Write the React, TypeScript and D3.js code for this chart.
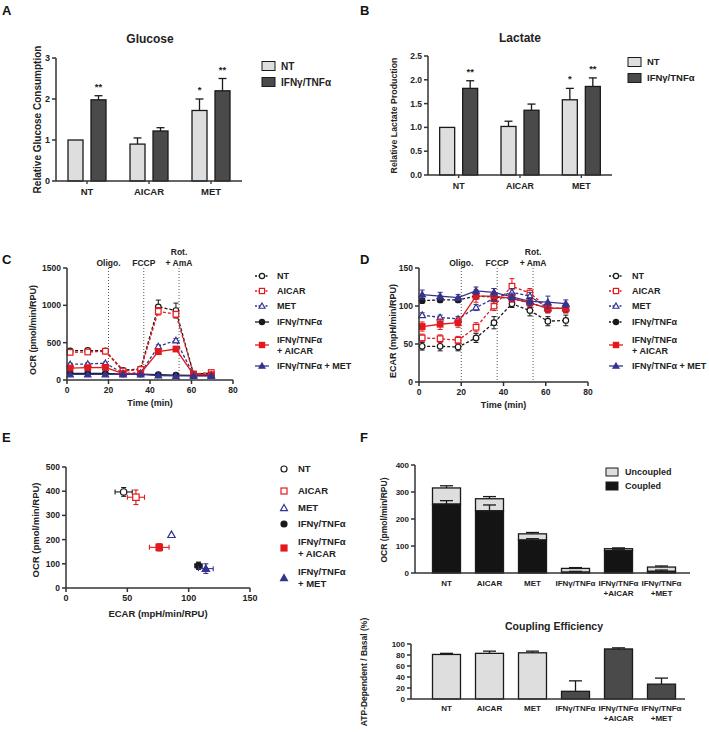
import React from "react";
import * as d3 from "d3";

const FONT = "'Liberation Sans', Arial, Helvetica, sans-serif";

// ---------- Data ----------
const barCats = ["NT", "AICAR", "MET"];
const glucoseNT = [1.0, 0.9, 1.72];
const glucoseNTErr = [0, 0.15, 0.28];
const glucoseIFN = [1.98, 1.22, 2.2];
const glucoseIFNErr = [0.1, 0.08, 0.3];
const glucoseStarsNT = ["", "", "*"];
const glucoseStarsIFN = ["**", "", "**"];

const lactateNT = [1.0, 1.02, 1.58];
const lactateNTErr = [0, 0.11, 0.24];
const lactateIFN = [1.82, 1.36, 1.86];
const lactateIFNErr = [0.16, 0.13, 0.18];
const lactateStarsNT = ["", "", "*"];
const lactateStarsIFN = ["**", "", "**"];

const glucoseTicks = [0, 1, 2, 3];
const lactateTicks = [0, 0.5, 1.0, 1.5, 2.0, 2.5];

const seriesNames = ["NT", "AICAR", "MET", "IFNγ/TNFα", "IFNγ/TNFα + AICAR", "IFNγ/TNFα + MET"];
const timePoints = [1.5, 10, 18.5, 27, 35.5, 44, 52.5, 61, 69.5];
const injectionTimes = [20, 37, 54];
const injectionLabels = [["Oligo."], ["FCCP"], ["Rot.", "+ AmA"]];

const ocrValues = [
  [390, 395, 390, 130, 150, 980, 930, 80, 90],
  [370, 375, 385, 120, 140, 920, 880, 80, 100],
  [210, 215, 225, 90, 95, 450, 530, 70, 70],
  [90, 90, 90, 80, 80, 70, 65, 60, 60],
  [160, 165, 170, 85, 90, 380, 415, 70, 70],
  [75, 75, 75, 75, 75, 60, 55, 55, 55],
];
const ocrErrors = [
  [15, 15, 15, 10, 10, 90, 100, 10, 10],
  [15, 15, 15, 10, 10, 50, 40, 10, 10],
  [15, 15, 15, 10, 10, 20, 25, 10, 10],
  [10, 10, 10, 8, 8, 8, 8, 8, 8],
  [10, 10, 10, 10, 10, 30, 30, 10, 10],
  [5, 5, 5, 5, 5, 5, 5, 5, 5],
];
const ocrTicks = [0, 500, 1000, 1500];

const ecarValues = [
  [47, 47, 46, 58, 78, 103, 94, 80, 81],
  [58, 57, 55, 72, 100, 126, 117, 97, 97],
  [88, 85, 83, 98, 110, 118, 113, 97, 97],
  [107, 108, 108, 113, 112, 110, 104, 97, 97],
  [73, 76, 78, 113, 113, 110, 104, 97, 97],
  [115, 113, 111, 120, 118, 112, 106, 105, 103],
];
const ecarErrors = [
  [5, 6, 5, 6, 8, 5, 7, 6, 7],
  [5, 5, 5, 6, 6, 10, 6, 6, 6],
  [3, 3, 3, 4, 4, 5, 5, 5, 5],
  [3, 3, 3, 4, 4, 4, 6, 5, 5],
  [6, 7, 6, 8, 10, 5, 5, 6, 6],
  [6, 5, 4, 5, 5, 5, 5, 8, 5],
];
const ecarTicks = [0, 50, 100, 150];
const timeTicks = [0, 20, 40, 60, 80];

const energyECAR = [47, 57, 86, 108, 76, 114];
const energyECARErr = [7, 7, 0, 3, 8, 6];
const energyOCR = [397, 375, 220, 92, 168, 80];
const energyOCRErr = [18, 30, 0, 15, 15, 20];
const energyXTicks = [0, 50, 100, 150];
const energyYTicks = [0, 100, 200, 300, 400, 500];

const fCats = [["NT"], ["AICAR"], ["MET"], ["IFNγ/TNFα"], ["IFNγ/TNFα", "+AICAR"], ["IFNγ/TNFα", "+MET"]];
const coupled = [255, 230, 122, 3, 83, 6];
const coupledErr = [13, 22, 5, 3, 3, 5];
const totalOCR = [315, 275, 145, 17, 90, 22];
const totalOCRErr = [8, 8, 5, 3, 3, 4];
const fTopTicks = [0, 100, 200, 300, 400];
const efficiency = [81, 83, 84, 14, 91, 27];
const efficiencyErr = [2, 4, 3, 19, 2, 11];
const efficiencyTicks = [0, 20, 40, 60, 80, 100];

// ---------- Styles ----------
const RED = "#e3191c";
const BLUE = "#34348f";
const BLK = "#1a1a1a";
const LIGHT = "#dedede";
const DARK = "#4a4a4a";
const AX = "#333";

type St = { color: string; shape: string; filled: boolean; dashed: boolean };
const stylesC: St[] = [
  { color: BLK, shape: "circle", filled: false, dashed: true },
  { color: RED, shape: "square", filled: false, dashed: true },
  { color: BLUE, shape: "triangle", filled: false, dashed: true },
  { color: BLK, shape: "circle", filled: true, dashed: false },
  { color: RED, shape: "square", filled: true, dashed: false },
  { color: BLUE, shape: "triangle", filled: true, dashed: false },
];
const stylesD: St[] = stylesC.map((s, i) => (i === 3 ? { ...s, dashed: true } : s));

// ---------- Helpers ----------
function Marker({ x, y, st, size = 3 }: { x: number; y: number; st: St; size?: number }) {
  const fill = st.filled ? st.color : "white";
  if (st.shape === "circle")
    return <circle cx={x} cy={y} r={size} fill={fill} stroke={st.color} strokeWidth={1.2} />;
  if (st.shape === "square")
    return <rect x={x - size} y={y - size} width={size * 2} height={size * 2} fill={fill} stroke={st.color} strokeWidth={1.2} />;
  const s = size * 1.15;
  return (
    <path
      d={`M${x},${y - s} L${x + s},${y + s * 0.75} L${x - s},${y + s * 0.75} Z`}
      fill={fill}
      stroke={st.color}
      strokeWidth={1.2}
    />
  );
}

function YAxis({ x, scale, ticks, fmt, fs = 8 }: any) {
  const r = scale.range();
  return (
    <g>
      <line x1={x} x2={x} y1={r[0]} y2={r[1]} stroke={AX} strokeWidth={1.5} />
      {ticks.map((t: number) => (
        <g key={t}>
          <line x1={x - 4} x2={x} y1={scale(t)} y2={scale(t)} stroke={AX} strokeWidth={1.5} />
          <text x={x - 6} y={scale(t)} dy="0.35em" textAnchor="end" fontSize={fs} fontWeight="bold" fill="#222">
            {fmt(t)}
          </text>
        </g>
      ))}
    </g>
  );
}

function XAxisNum({ y, scale, ticks, fs = 8.5 }: any) {
  const r = scale.range();
  return (
    <g>
      <line x1={r[0]} x2={r[1]} y1={y} y2={y} stroke={AX} strokeWidth={1.5} />
      {ticks.map((t: number) => (
        <g key={t}>
          <line x1={scale(t)} x2={scale(t)} y1={y} y2={y + 4} stroke={AX} strokeWidth={1.5} />
          <text x={scale(t)} y={y + 13} textAnchor="middle" fontSize={fs} fontWeight="bold" fill="#222">
            {t}
          </text>
        </g>
      ))}
    </g>
  );
}

function RotLabel({ x, y, text, fs = 9 }: any) {
  return (
    <text transform={`translate(${x},${y}) rotate(-90)`} textAnchor="middle" fontSize={fs} fontWeight="bold" fill="#222">
      {text}
    </text>
  );
}

function GroupedBars({ axisX, axisEnd, y0, yTop, max, ticks, fmt, nt, ntErr, ifn, ifnErr, starsNT, starsIFN, title, titleX, titleY, ylabel, ylabelX, ylabelFs, legendX, legendY, tickFs, catFs, legendFs }: any) {
  const y = d3.scaleLinear().domain([0, max]).range([y0, yTop]);
  const x = d3.scaleBand().domain(barCats).range([axisX, axisEnd]);
  const bw = 15;
  const off = 4;
  const bars: any[] = [];
  barCats.forEach((c, i) => {
    const cx = (x(c) as number) + x.bandwidth() / 2;
    const groups = [
      { v: nt[i], e: ntErr[i], s: starsNT[i], fill: LIGHT, x0: cx - off - bw },
      { v: ifn[i], e: ifnErr[i], s: starsIFN[i], fill: DARK, x0: cx + off },
    ];
    groups.forEach((g, j) => {
      const top = y(g.v);
      const et = y(g.v + g.e);
      const mid = g.x0 + bw / 2;
      bars.push(
        <g key={`${c}-${j}`}>
          {g.e > 0 && (
            <g>
              <line x1={mid} x2={mid} y1={top} y2={et} stroke={BLK} strokeWidth={1.3} />
              <line x1={mid - 4} x2={mid + 4} y1={et} y2={et} stroke={BLK} strokeWidth={1.3} />
            </g>
          )}
          <rect x={g.x0} y={top} width={bw} height={y0 - top} fill={g.fill} stroke={BLK} strokeWidth={1.3} />
          {g.s && (
            <text x={mid} y={et - 6} textAnchor="middle" fontSize={9.5} fontWeight="bold" fill="#222">
              {g.s}
            </text>
          )}
        </g>
      );
    });
  });
  return (
    <g>
      <text x={titleX} y={titleY} textAnchor="middle" fontSize={12} fontWeight="bold" fill="#222">
        {title}
      </text>
      {bars}
      <YAxis x={axisX} scale={y} ticks={ticks} fmt={fmt} fs={tickFs} />
      <line x1={axisX} x2={axisEnd} y1={y0} y2={y0} stroke={AX} strokeWidth={1.5} />
      {barCats.map((c) => {
        const cx = (x(c) as number) + x.bandwidth() / 2;
        return (
          <g key={c}>
            <line x1={cx} x2={cx} y1={y0} y2={y0 + 3} stroke={AX} strokeWidth={1.3} />
            <text x={cx} y={y0 + 14} textAnchor="middle" fontSize={catFs} fontWeight="bold" fill="#222">
              {c}
            </text>
          </g>
        );
      })}
      <RotLabel x={ylabelX} y={(y0 + yTop) / 2} text={ylabel} fs={ylabelFs} />
      <rect x={legendX} y={legendY - 4.5} width={13} height={9} fill={LIGHT} stroke={BLK} strokeWidth={1} />
      <text x={legendX + 19} y={legendY} dy="0.35em" fontSize={legendFs} fontWeight="bold" fill="#222">
        NT
      </text>
      <rect x={legendX} y={legendY + 11.5} width={13} height={9} fill={DARK} stroke={BLK} strokeWidth={1} />
      <text x={legendX + 19} y={legendY + 16} dy="0.35em" fontSize={legendFs} fontWeight="bold" fill="#222">
        IFNγ/TNFα
      </text>
    </g>
  );
}

function TimePanel({ axisX, axisEnd, y0, yTop, max, ticks, values, errors, styles, ylabel, ylabelX, legendX, legendTextX }: any) {
  const x = d3.scaleLinear().domain([0, 80]).range([axisX, axisEnd]);
  const y = d3.scaleLinear().domain([0, max]).range([y0, yTop]);
  const line = d3
    .line<number>()
    .x((_, i) => x(timePoints[i]))
    .y((d) => y(d));
  const legendRows = [276, 291, 306, 322, 345, 366];
  return (
    <g>
      {injectionTimes.map((t, i) => (
        <g key={t}>
          <line x1={x(t)} x2={x(t)} y1={yTop} y2={y0} stroke="#555" strokeWidth={1} strokeDasharray="1,2" />
          {injectionLabels[i].map((l, k) => (
            <text
              key={k}
              x={x(t)}
              y={yTop - 2 - (injectionLabels[i].length - 1 - k) * 11}
              textAnchor="middle"
              fontSize={8.5}
              fontWeight="bold"
              fill="#222"
            >
              {l}
            </text>
          ))}
        </g>
      ))}
      {values.map((vals: number[], si: number) => {
        const st = styles[si];
        return (
          <g key={si}>
            <path d={line(vals) as string} fill="none" stroke={st.color} strokeWidth={1.3} strokeDasharray={st.dashed ? "3,2" : undefined} />
            {vals.map((v, i) => {
              const e = errors[si][i];
              const px = x(timePoints[i]);
              return (
                <g key={i}>
                  <line x1={px} x2={px} y1={y(v - e)} y2={y(v + e)} stroke={st.color} strokeWidth={1} />
                  <line x1={px - 2.5} x2={px + 2.5} y1={y(v + e)} y2={y(v + e)} stroke={st.color} strokeWidth={1} />
                  <line x1={px - 2.5} x2={px + 2.5} y1={y(v - e)} y2={y(v - e)} stroke={st.color} strokeWidth={1} />
                  <Marker x={px} y={y(v)} st={st} size={2.8} />
                </g>
              );
            })}
          </g>
        );
      })}
      <YAxis x={axisX} scale={y} ticks={ticks} fmt={(t: number) => `${t}`} fs={8.5} />
      <XAxisNum y={y0} scale={x} ticks={timeTicks} fs={8.5} />
      <text x={(axisX + axisEnd) / 2} y={y0 + 26} textAnchor="middle" fontSize={9} fontWeight="bold" fill="#222">
        Time (min)
      </text>
      <RotLabel x={ylabelX} y={(y0 + yTop) / 2 + 6} text={ylabel} fs={9} />
      {seriesNames.map((n, i) => {
        const st = styles[i];
        const ly = legendRows[i];
        const lines = i === 4 ? ["IFNγ/TNFα", "+ AICAR"] : [n];
        return (
          <g key={n}>
            <line x1={legendX - 7} x2={legendX + 7} y1={ly} y2={ly} stroke={st.color} strokeWidth={1.3} strokeDasharray={st.dashed ? "2,1.5" : undefined} />
            <Marker x={legendX} y={ly} st={st} size={2.6} />
            {lines.map((l, k) => (
              <text key={k} x={legendTextX} y={ly + (k - (lines.length - 1) / 2) * 11} dy="0.35em" fontSize={9} fontWeight="bold" fill="#222">
                {l}
              </text>
            ))}
          </g>
        );
      })}
    </g>
  );
}

function EnergyPanel() {
  const x = d3.scaleLinear().domain([0, 150]).range([66, 250]);
  const y = d3.scaleLinear().domain([0, 500]).range([588, 467]);
  const legendRows = [469, 491, 508, 524, 548, 578];
  return (
    <g>
      {energyECAR.map((ex, i) => {
        const st = stylesC[i];
        const px = x(ex);
        const py = y(energyOCR[i]);
        const xe = energyECARErr[i];
        const ye = energyOCRErr[i];
        return (
          <g key={i}>
            {xe > 0 && (
              <g>
                <line x1={x(ex - xe)} x2={x(ex + xe)} y1={py} y2={py} stroke={st.color} strokeWidth={1.1} />
                <line x1={x(ex - xe)} x2={x(ex - xe)} y1={py - 2.5} y2={py + 2.5} stroke={st.color} strokeWidth={1.1} />
                <line x1={x(ex + xe)} x2={x(ex + xe)} y1={py - 2.5} y2={py + 2.5} stroke={st.color} strokeWidth={1.1} />
              </g>
            )}
            {ye > 0 && (
              <g>
                <line x1={px} x2={px} y1={y(energyOCR[i] - ye)} y2={y(energyOCR[i] + ye)} stroke={st.color} strokeWidth={1.1} />
                <line x1={px - 2.5} x2={px + 2.5} y1={y(energyOCR[i] - ye)} y2={y(energyOCR[i] - ye)} stroke={st.color} strokeWidth={1.1} />
                <line x1={px - 2.5} x2={px + 2.5} y1={y(energyOCR[i] + ye)} y2={y(energyOCR[i] + ye)} stroke={st.color} strokeWidth={1.1} />
              </g>
            )}
            <Marker x={px} y={py} st={st} size={3.2} />
          </g>
        );
      })}
      <YAxis x={66} scale={y} ticks={energyYTicks} fmt={(t: number) => `${t}`} fs={8.5} />
      <XAxisNum y={588} scale={x} ticks={energyXTicks} fs={9} />
      <text x={158} y={617} textAnchor="middle" fontSize={9.5} fontWeight="bold" fill="#222">
        ECAR (mpH/min/RPU)
      </text>
      <RotLabel x={39} y={530} text="OCR (pmol/min/RPU)" fs={9.5} />
      {seriesNames.map((n, i) => {
        const ly = legendRows[i];
        const lines = i >= 4 ? ["IFNγ/TNFα", i === 4 ? "+ AICAR" : "+ MET"] : [n];
        return (
          <g key={n}>
            <Marker x={284} y={ly} st={stylesC[i]} size={3} />
            {lines.map((l, k) => (
              <text key={k} x={298} y={ly + (k - (lines.length - 1) / 2) * 12} dy="0.35em" fontSize={9.5} fontWeight="bold" fill="#222">
                {l}
              </text>
            ))}
          </g>
        );
      })}
    </g>
  );
}

function CatLabels({ x, y, fs = 8 }: any) {
  return (
    <g>
      {fCats.map((lines, i) => (
        <g key={i}>
          {lines.map((l, k) => (
            <text key={k} x={(x(`${i}`) as number) + x.bandwidth() / 2} y={y + k * 10} textAnchor="middle" fontSize={fs} fontWeight="bold" fill="#222">
              {l}
            </text>
          ))}
        </g>
      ))}
    </g>
  );
}

function PanelF() {
  const idx = fCats.map((_, i) => `${i}`);
  const x = d3.scaleBand().domain(idx).range([425, 683]);
  const bw = 28;
  const yT = d3.scaleLinear().domain([0, 400]).range([573, 465]);
  const yB = d3.scaleLinear().domain([0, 100]).range([699, 644]);
  const cap = 6.5;
  return (
    <g>
      {idx.map((k, i) => {
        const cx = (x(k) as number) + x.bandwidth() / 2;
        const x0 = cx - bw / 2;
        const tTop = yT(totalOCR[i]);
        const tErr = yT(totalOCR[i] + totalOCRErr[i]);
        const cTop = yT(coupled[i]);
        const cErr = yT(coupled[i] + coupledErr[i]);
        return (
          <g key={k}>
            <line x1={cx} x2={cx} y1={tTop} y2={tErr} stroke={BLK} strokeWidth={1.3} />
            <line x1={cx - cap} x2={cx + cap} y1={tErr} y2={tErr} stroke={BLK} strokeWidth={1.3} />
            <rect x={x0} y={tTop} width={bw} height={cTop - tTop} fill={LIGHT} stroke={BLK} strokeWidth={1.3} />
            <rect x={x0} y={cTop} width={bw} height={573 - cTop} fill="#141414" stroke={BLK} strokeWidth={1.3} />
            <line x1={cx} x2={cx} y1={cTop} y2={cErr} stroke={BLK} strokeWidth={1.3} />
            <line x1={cx - cap} x2={cx + cap} y1={cErr} y2={cErr} stroke={BLK} strokeWidth={1.3} />
          </g>
        );
      })}
      <YAxis x={415} scale={yT} ticks={fTopTicks} fmt={(t: number) => `${t}`} fs={8} />
      <line x1={415} x2={690} y1={573} y2={573} stroke={AX} strokeWidth={1.5} />
      <CatLabels x={x} y={586} />
      <RotLabel x={387} y={520} text="OCR (pmol/min/RPU)" fs={8.5} />
      <rect x={606} y={468} width={12} height={8} fill={LIGHT} stroke={BLK} strokeWidth={1} />
      <text x={625} y={472} dy="0.35em" fontSize={9} fontWeight="bold" fill="#222">
        Uncoupled
      </text>
      <rect x={606} y={482} width={12} height={8} fill="#141414" stroke={BLK} strokeWidth={1} />
      <text x={625} y={486} dy="0.35em" fontSize={9} fontWeight="bold" fill="#222">
        Coupled
      </text>

      <text x={554} y={630} textAnchor="middle" fontSize={10.5} fontWeight="bold" fill="#222">
        Coupling Efficiency
      </text>
      {idx.map((k, i) => {
        const cx = (x(k) as number) + x.bandwidth() / 2;
        const top = yB(efficiency[i]);
        const et = yB(efficiency[i] + efficiencyErr[i]);
        return (
          <g key={k}>
            <line x1={cx} x2={cx} y1={top} y2={et} stroke={BLK} strokeWidth={1.3} />
            <line x1={cx - cap} x2={cx + cap} y1={et} y2={et} stroke={BLK} strokeWidth={1.3} />
            <rect x={cx - bw / 2} y={top} width={bw} height={699 - top} fill={i < 3 ? LIGHT : DARK} stroke={BLK} strokeWidth={1.3} />
          </g>
        );
      })}
      <YAxis x={411} scale={yB} ticks={efficiencyTicks} fmt={(t: number) => `${t}`} fs={8} />
      <line x1={411} x2={685} y1={699} y2={699} stroke={AX} strokeWidth={1.5} />
      <CatLabels x={x} y={711} />
      <RotLabel x={367} y={672} text="ATP-Dependent / Basal (%)" fs={8.5} />
    </g>
  );
}

export default function App() {
  const letter = (t: string, x: number, y: number) => (
    <text x={x} y={y} fontSize={13} fontWeight="bold" fill="#111">
      {t}
    </text>
  );
  return (
    <svg
      width={709}
      height={732}
      style={{ position: "absolute", left: 0, top: 0, background: "white", fontFamily: FONT }}
      fontFamily={FONT}
    >
      <rect width={709} height={732} fill="white" />
      {letter("A", 2, 15)}
      {letter("B", 360, 15)}
      {letter("C", 2, 264)}
      {letter("D", 360, 264)}
      {letter("E", 2, 442)}
      {letter("F", 360, 442)}
      <GroupedBars
        axisX={56}
        axisEnd={242}
        y0={181}
        yTop={58}
        max={3}
        ticks={glucoseTicks}
        fmt={(t: number) => `${t}`}
        nt={glucoseNT}
        ntErr={glucoseNTErr}
        ifn={glucoseIFN}
        ifnErr={glucoseIFNErr}
        starsNT={glucoseStarsNT}
        starsIFN={glucoseStarsIFN}
        title="Glucose"
        titleX={150}
        titleY={43}
        ylabel="Relative  Glucose Consumption"
        ylabelX={41}
        ylabelFs={10}
        legendX={262}
        legendY={66}
        tickFs={9}
        catFs={9.5}
        legendFs={10}
      />
      <GroupedBars
        axisX={428}
        axisEnd={612}
        y0={175}
        yTop={56}
        max={2.5}
        ticks={lactateTicks}
        fmt={d3.format(".1f")}
        nt={lactateNT}
        ntErr={lactateNTErr}
        ifn={lactateIFN}
        ifnErr={lactateIFNErr}
        starsNT={lactateStarsNT}
        starsIFN={lactateStarsIFN}
        title="Lactate"
        titleX={520}
        titleY={42}
        ylabel="Relative Lactate Production"
        ylabelX={397}
        ylabelFs={8.8}
        legendX={628}
        legendY={62}
        tickFs={8.5}
        catFs={8.8}
        legendFs={9.5}
      />
      <TimePanel
        axisX={67}
        axisEnd={233}
        y0={380}
        yTop={268}
        max={1500}
        ticks={ocrTicks}
        values={ocrValues}
        errors={ocrErrors}
        styles={stylesC}
        ylabel="OCR (pmol/min/RPU)"
        ylabelX={36}
        legendX={262}
        legendTextX={277}
      />
      <TimePanel
        axisX={419}
        axisEnd={588}
        y0={382}
        yTop={268}
        max={150}
        ticks={ecarTicks}
        values={ecarValues}
        errors={ecarErrors}
        styles={stylesD}
        ylabel="ECAR (mpH/min/RPU)"
        ylabelX={396}
        legendX={616}
        legendTextX={632}
      />
      <EnergyPanel />
      <PanelF />
    </svg>
  );
}
